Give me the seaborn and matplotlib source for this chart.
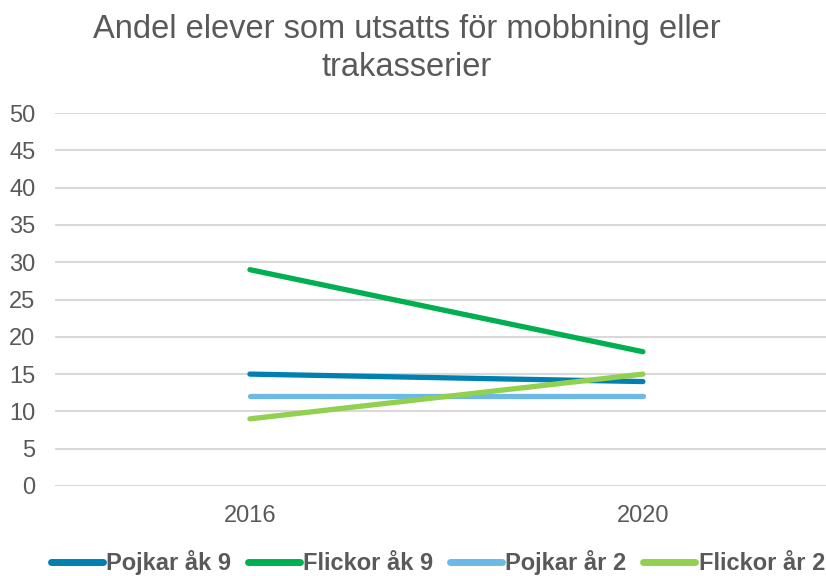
import numpy as np
import pandas as pd
import matplotlib.pyplot as plt
import seaborn as sns

# data
years = ['2016', '2020']
groups = ['Pojkar åk 9', 'Flickor åk 9', 'Pojkar år 2', 'Flickor år 2']
pojkar_ak9 = [15, 14]
flickor_ak9 = [29, 18]
pojkar_ar2 = [12, 12]
flickor_ar2 = [9, 15]
colors = ['#0080B0', '#00B050', '#6CB8E6', '#92D050']

series = [pojkar_ak9, flickor_ak9, pojkar_ar2, flickor_ar2]
rows = []
for g, vals in zip(groups, series):
    for y, v in zip(years, vals):
        rows.append({'År': y, 'Andel': v, 'Grupp': g})
df = pd.DataFrame(rows)

sns.set_style('white')
plt.rcParams['font.family'] = ['Liberation Sans', 'DejaVu Sans']
text_color = '#595959'

fig = plt.figure(figsize=(8.26, 5.76), dpi=100)
ax = fig.add_axes([55 / 826, 90 / 576, 771 / 826, 373 / 576])

sns.lineplot(data=df, x='År', y='Andel', hue='Grupp', hue_order=groups,
             palette=colors, linewidth=3.8, ax=ax, legend=False,
             solid_capstyle='round')

ax.set_ylim(0, 50)
ax.set_yticks(np.arange(0, 51, 5))
ax.set_xlim(-0.496, 1.466)
ax.grid(axis='y', color='#D9D9D9', linewidth=1.5)
ax.set_axisbelow(True)
for s in ax.spines.values():
    s.set_visible(False)
ax.tick_params(axis='both', length=0, labelsize=17, colors=text_color)
ax.tick_params(axis='y', pad=14)
ax.tick_params(axis='x', pad=14)
ax.set_xlabel('')
ax.set_ylabel('')

fig.text(0.492, 0.976, 'Andel elever som utsatts för mobbning eller\ntrakasserier',
         ha='center', va='top', fontsize=23.5, color=text_color, linespacing=1.3)

handles = [plt.Line2D([], [], color=c, linewidth=5, solid_capstyle='round') for c in colors]
leg = fig.legend(handles, groups, loc='lower center', bbox_to_anchor=(0.53, -0.036),
                 ncol=4, frameon=False, handlelength=2.2, handletextpad=0.15,
                 columnspacing=0.7, prop={'size': 17, 'weight': 'bold'})
for t in leg.get_texts():
    t.set_color(text_color)

plt.savefig('out.png', dpi=100)
